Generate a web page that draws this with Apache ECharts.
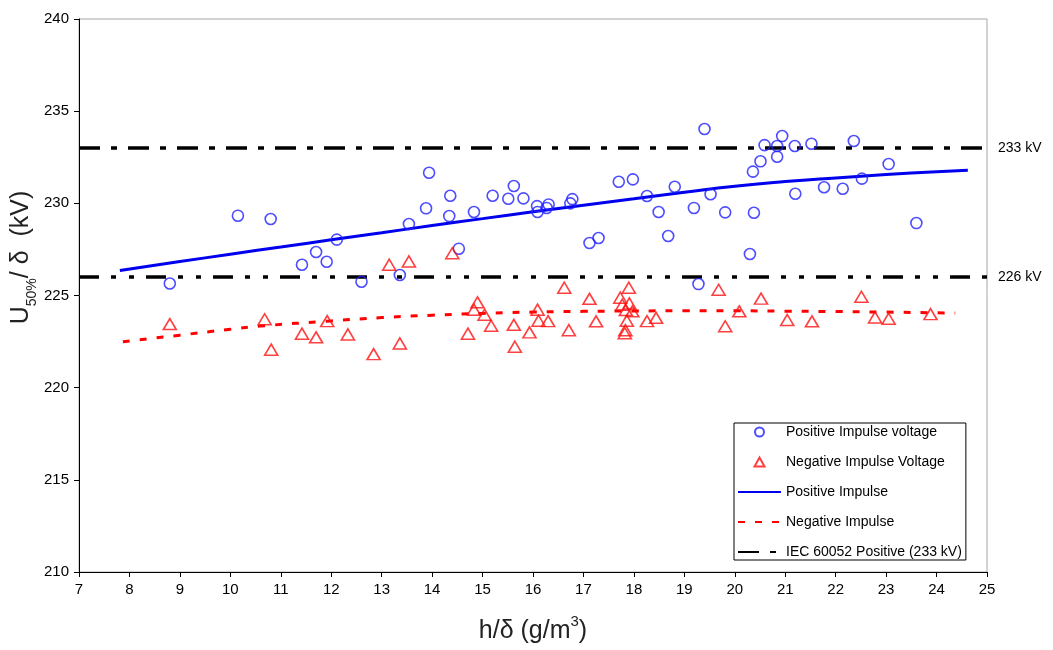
<!DOCTYPE html>
<html>
<head>
<meta charset="utf-8">
<script src="https://cdn.jsdelivr.net/npm/echarts@6/dist/echarts.min.js"></script>
<style>html,body{margin:0;padding:0;background:#fff}#c{width:1053px;height:650px}</style>
</head>
<body>
<div id="c"></div>
<script>
// ---- data ----
const positivePoints = [
  [8.80,225.65],[10.15,229.33],[10.80,229.15],[11.42,226.67],[11.70,227.36],[11.91,226.83],[12.11,228.03],
  [12.60,225.75],[13.36,226.11],[13.54,228.88],[13.88,229.73],[13.94,231.66],[14.36,230.41],[14.34,229.31],
  [14.53,227.54],[14.83,229.53],[15.20,230.41],[15.51,230.25],[15.62,230.94],[15.81,230.27],[16.08,229.85],
  [16.09,229.53],[16.27,229.75],[16.31,229.94],[16.74,230.00],[16.78,230.23],[17.12,227.85],[17.30,228.12],
  [17.70,231.17],[17.98,231.30],[18.26,230.40],[18.49,229.53],[18.68,228.23],[18.81,230.90],[19.19,229.75],
  [19.28,225.62],[19.40,234.03],[19.52,230.49],[19.81,229.51],[20.30,227.25],[20.36,231.72],[20.38,229.49],
  [20.51,232.28],[20.59,233.16],[20.84,233.11],[20.84,232.53],[20.94,233.65],[21.19,233.11],[21.20,230.52],
  [21.52,233.23],[21.77,230.87],[22.14,230.79],[22.36,233.38],[22.52,231.34],[23.05,232.13],[23.60,228.93]
];
const negativePoints = [
  [8.80,223.45],[10.68,223.71],[10.81,222.06],[11.42,222.93],[11.70,222.73],[11.92,223.61],[12.33,222.89],
  [12.84,221.82],[13.15,226.67],[13.36,222.40],[13.54,226.85],[14.40,227.29],[14.71,222.93],[14.83,224.23],
  [14.90,224.63],[15.04,223.96],[15.17,223.36],[15.62,223.41],[15.64,222.22],[15.93,223.00],[16.09,224.23],
  [16.11,223.63],[16.30,223.61],[16.62,225.42],[16.71,223.12],[17.12,224.82],[17.25,223.60],[17.73,224.88],
  [17.77,224.50],[17.82,222.95],[17.83,223.12],[17.84,224.21],[17.86,223.63],[17.90,225.42],[17.91,224.57],
  [17.97,224.14],[18.26,223.61],[18.44,223.79],[19.68,225.31],[19.81,223.33],[20.09,224.14],[20.52,224.83],
  [21.04,223.67],[21.53,223.60],[22.51,224.93],[22.78,223.81],[23.05,223.74],[23.88,223.99]
];
const positiveFitX = [7.81, 9, 10, 11, 12, 13, 14, 15, 16, 17, 18, 19, 20, 21, 22, 23, 24, 24.62];
const positiveFitY = [226.36,226.84,227.24,227.63,228.02,228.40,228.80,229.17,229.54,229.90,230.25,230.60,230.93,231.18,231.38,231.56,231.71,231.79];
const negativeFitX = [7.87, 9, 10, 10.59, 12, 13, 14, 15, 16, 17, 18, 19, 20, 21, 22, 23, 24, 24.37];
const negativeFitY = [222.49,222.85,223.17,223.34,223.62,223.80,223.93,224.03,224.10,224.14,224.16,224.17,224.17,224.15,224.13,224.10,224.06,224.05];
const iecX = [7, 25];
const iecUpper = 233;
const iecLower = 226;
const legendNames = ['Positive Impulse voltage', 'Negative Impulse Voltage', 'Positive Impulse', 'Negative Impulse', 'IEC 60052 Positive (233 kV)'];

const zip = (xs, ys) => xs.map((x, i) => [x, ys[i]]);
const FONT = 'Arial, "Liberation Sans", sans-serif';

const legendData = legendNames.map((n, i) => i < 2
  ? {name: n, icon: i === 0 ? 'circle' : 'path://M5,0 L10,9 L0,9 Z'}
  : {name: n, itemStyle: {opacity: 0}});

const chart = echarts.init(document.getElementById('c'), null, {renderer: 'canvas'});
chart.setOption({
  animation: false,
  backgroundColor: '#fff',
  grid: {left: 79, right: 66, top: 19, bottom: 78, show: true, borderColor: '#a6a6a6', borderWidth: 1,
         backgroundColor: 'transparent', containLabel: false, outerBoundsMode: 'none'},
  xAxis: {
    type: 'value', min: 7, max: 25, interval: 1,
    name: '{a|h/δ (g/m}{s|3}{a|)}',
    nameLocation: 'middle', nameGap: 42,
    nameTextStyle: {rich: {
      a: {fontFamily: FONT, fontSize: 25, color: '#222', verticalAlign: 'bottom', lineHeight: 30},
      s: {fontFamily: FONT, fontSize: 15, color: '#222', verticalAlign: 'top', lineHeight: 30}
    }},
    axisLine: {lineStyle: {color: '#000', width: 1}},
    axisTick: {length: 5, lineStyle: {color: '#000'}},
    axisLabel: {fontFamily: FONT, fontSize: 15, color: '#000', margin: 10},
    splitLine: {show: false}
  },
  yAxis: {
    type: 'value', min: 210, max: 240, interval: 5,
    name: '{a|U}{b|50%}{a|/ δ  (kV)}',
    nameLocation: 'middle', nameGap: 40, nameRotate: 90, nameMoveOverlap: false,
    nameTextStyle: {padding: [0, 0, 0, 76], rich: {
      a: {fontFamily: FONT, fontSize: 25, color: '#222', verticalAlign: 'top', lineHeight: 30},
      b: {fontFamily: FONT, fontSize: 14, color: '#222', verticalAlign: 'bottom', lineHeight: 30}
    }},
    axisLine: {show: true, lineStyle: {color: '#000', width: 1}},
    axisTick: {show: true, length: 5, lineStyle: {color: '#000'}},
    axisLabel: {fontFamily: FONT, fontSize: 15, color: '#000', margin: 10},
    splitLine: {show: false}
  },
  legend: {
    orient: 'vertical', left: 734, top: 423,
    data: legendData,
    itemWidth: 43, itemHeight: 9, itemGap: 14,
    symbolKeepAspect: true,
    padding: [1, 4, 0, 3],
    borderColor: '#000', borderWidth: 1, backgroundColor: '#fff',
    textStyle: {fontFamily: FONT, fontSize: 14, color: '#000', lineHeight: 16},
    selectedMode: false
  },
  series: [
    {
      name: 'IEC 60052 Positive (233 kV)', type: 'line', symbol: 'none', z: 1,
      data: zip(iecX, iecX.map(() => iecUpper)),
      lineStyle: {color: '#000', width: 3.5, type: [21, 11, 6, 11]},
      itemStyle: {color: '#000'},
      endLabel: {show: true, formatter: '233 kV', distance: 11, fontFamily: FONT, fontSize: 14, color: '#000'}
    },
    {
      name: 'IEC 60052 Positive (233 kV)', type: 'line', symbol: 'none', z: 1,
      data: zip(iecX, iecX.map(() => iecLower)),
      lineStyle: {color: '#000', width: 3.5, type: [20, 12, 5, 13, 5, 12]},
      itemStyle: {color: '#000'},
      endLabel: {show: true, formatter: '226 kV', distance: 11, fontFamily: FONT, fontSize: 14, color: '#000'}
    },
    {
      name: 'Positive Impulse', type: 'line', symbol: 'none', smooth: true, z: 2,
      data: zip(positiveFitX, positiveFitY),
      lineStyle: {color: '#0000ee', width: 3},
      itemStyle: {color: '#0000ee'}
    },
    {
      name: 'Negative Impulse', type: 'line', symbol: 'none', smooth: true, z: 2,
      data: zip(negativeFitX, negativeFitY),
      lineStyle: {color: '#ff0000', width: 3, type: [7, 10]},
      itemStyle: {color: '#ff0000'}
    },
    {
      name: 'Positive Impulse voltage', type: 'scatter', symbol: 'circle', symbolSize: 11, z: 3,
      data: positivePoints,
      itemStyle: {color: 'rgba(255,255,255,0)', borderColor: '#2121ff', borderWidth: 1.6}
    },
    {
      name: 'Negative Impulse Voltage', type: 'scatter', symbol: 'triangle', symbolSize: [13, 11], z: 3,
      symbolKeepAspect: true,
      data: negativePoints,
      itemStyle: {color: 'rgba(255,255,255,0)', borderColor: '#ff1010', borderWidth: 1.6}
    }
  ]
});
</script>
</body>
</html>
